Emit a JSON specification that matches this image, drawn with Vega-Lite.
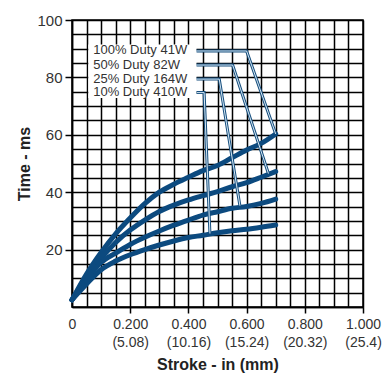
{
  "$schema": "https://vega.github.io/schema/vega-lite/v6.json",
  "autosize": "none",
  "width": 291,
  "height": 287,
  "padding": {"left": 72, "top": 20, "right": 20, "bottom": 70},
  "background": "white",
  "config": {
    "view": {"stroke": "black", "strokeWidth": 1.5},
    "font": "Liberation Sans"
  },
  "datasets": {
    "curves": [
      {"s": "41W", "x": 0, "t": 2.5}, {"s": "41W", "x": 0.05, "t": 11.5}, {"s": "41W", "x": 0.1, "t": 19}, {"s": "41W", "x": 0.15, "t": 25.5}, {"s": "41W", "x": 0.2, "t": 31}, {"s": "41W", "x": 0.25, "t": 36}, {"s": "41W", "x": 0.3, "t": 40}, {"s": "41W", "x": 0.35, "t": 42.8}, {"s": "41W", "x": 0.4, "t": 45.2}, {"s": "41W", "x": 0.45, "t": 47.5}, {"s": "41W", "x": 0.5, "t": 49.3}, {"s": "41W", "x": 0.55, "t": 52}, {"s": "41W", "x": 0.6, "t": 54.7}, {"s": "41W", "x": 0.65, "t": 57}, {"s": "41W", "x": 0.7, "t": 60.3},
      {"s": "82W", "x": 0, "t": 2.5}, {"s": "82W", "x": 0.05, "t": 10.5}, {"s": "82W", "x": 0.1, "t": 17}, {"s": "82W", "x": 0.15, "t": 22.5}, {"s": "82W", "x": 0.2, "t": 26.8}, {"s": "82W", "x": 0.25, "t": 30.3}, {"s": "82W", "x": 0.3, "t": 33.3}, {"s": "82W", "x": 0.35, "t": 35.5}, {"s": "82W", "x": 0.4, "t": 37.3}, {"s": "82W", "x": 0.45, "t": 38.8}, {"s": "82W", "x": 0.5, "t": 40.2}, {"s": "82W", "x": 0.55, "t": 41.9}, {"s": "82W", "x": 0.6, "t": 43.3}, {"s": "82W", "x": 0.65, "t": 45.2}, {"s": "82W", "x": 0.7, "t": 47.2},
      {"s": "164W", "x": 0, "t": 2.5}, {"s": "164W", "x": 0.05, "t": 9.5}, {"s": "164W", "x": 0.1, "t": 15.5}, {"s": "164W", "x": 0.15, "t": 18.8}, {"s": "164W", "x": 0.2, "t": 21.8}, {"s": "164W", "x": 0.25, "t": 24.3}, {"s": "164W", "x": 0.3, "t": 26.5}, {"s": "164W", "x": 0.35, "t": 28.5}, {"s": "164W", "x": 0.4, "t": 30.3}, {"s": "164W", "x": 0.45, "t": 32}, {"s": "164W", "x": 0.5, "t": 33.2}, {"s": "164W", "x": 0.55, "t": 34.4}, {"s": "164W", "x": 0.6, "t": 35}, {"s": "164W", "x": 0.65, "t": 36.1}, {"s": "164W", "x": 0.7, "t": 37.6},
      {"s": "410W", "x": 0, "t": 2.5}, {"s": "410W", "x": 0.05, "t": 8}, {"s": "410W", "x": 0.1, "t": 13}, {"s": "410W", "x": 0.15, "t": 16}, {"s": "410W", "x": 0.2, "t": 18.2}, {"s": "410W", "x": 0.25, "t": 20}, {"s": "410W", "x": 0.3, "t": 21.6}, {"s": "410W", "x": 0.35, "t": 23}, {"s": "410W", "x": 0.4, "t": 24.2}, {"s": "410W", "x": 0.45, "t": 25}, {"s": "410W", "x": 0.5, "t": 25.9}, {"s": "410W", "x": 0.55, "t": 26.6}, {"s": "410W", "x": 0.6, "t": 27.1}, {"s": "410W", "x": 0.65, "t": 27.8}, {"s": "410W", "x": 0.7, "t": 28.6}
    ],
    "leaders": [
      {"s": "41W", "o": 1, "x": 0.428, "t": 89.2}, {"s": "41W", "o": 2, "x": 0.6, "t": 89.2}, {"s": "41W", "o": 3, "x": 0.7, "t": 60.3},
      {"s": "82W", "o": 1, "x": 0.428, "t": 84.3}, {"s": "82W", "o": 2, "x": 0.552, "t": 84.3}, {"s": "82W", "o": 3, "x": 0.675, "t": 46.5},
      {"s": "164W", "o": 1, "x": 0.428, "t": 79.4}, {"s": "164W", "o": 2, "x": 0.506, "t": 79.4}, {"s": "164W", "o": 3, "x": 0.577, "t": 35.3},
      {"s": "410W", "o": 1, "x": 0.428, "t": 74.7}, {"s": "410W", "o": 2, "x": 0.454, "t": 74.7}, {"s": "410W", "o": 3, "x": 0.474, "t": 25.6}
    ],
    "labels": [
      {"label": "100% Duty 41W", "x": 0.073, "t": 89.4},
      {"label": "50% Duty 82W", "x": 0.073, "t": 84.4},
      {"label": "25% Duty 164W", "x": 0.073, "t": 79.6},
      {"label": "10% Duty 410W", "x": 0.073, "t": 74.8}
    ],
    "box": [{"x": 0.056, "x2": 0.428, "t": 72.8, "t2": 91.5}]
  },
  "encoding": {
    "x": {
      "field": "x", "type": "quantitative",
      "scale": {"domain": [0, 1], "nice": false, "zero": false},
      "axis": {
        "values": [0, 0.05, 0.1, 0.15, 0.2, 0.25, 0.3, 0.35, 0.4, 0.45, 0.5, 0.55, 0.6, 0.65, 0.7, 0.75, 0.8, 0.85, 0.9, 0.95, 1.0],
        "grid": true, "gridColor": "black", "gridWidth": 1.5, "gridOpacity": 1,
        "domain": true, "domainColor": "black", "domainWidth": 1.5,
        "tickColor": "black", "tickWidth": 1.5, "tickSize": 6,
        "tickOpacity": {"condition": {"test": "datum.value > 0.01 && abs(datum.value*5 - round(datum.value*5)) < 1e-6", "value": 1}, "value": 0},
        "labelExpr": "abs(datum.value*5 - round(datum.value*5)) < 1e-6 ? (datum.value == 0 ? '0' : [format(datum.value, '.3f'), '(' + format(datum.value*25.4, '.4~r') + ')']) : ''",
        "labelOverlap": false, "labelBound": false, "labelFlush": false,
        "labelFontSize": 14, "labelColor": "#333333", "labelPadding": 4, "labelLineHeight": 18,
        "title": "Stroke - in (mm)", "titleFontSize": 16, "titleFontWeight": "bold", "titleColor": "#222222", "titlePadding": 7
      }
    },
    "y": {
      "field": "t", "type": "quantitative",
      "scale": {"domain": [0, 100], "nice": false, "zero": false},
      "axis": {
        "values": [0, 5, 10, 15, 20, 25, 30, 35, 40, 45, 50, 55, 60, 65, 70, 75, 80, 85, 90, 95, 100],
        "grid": true, "gridColor": "black", "gridWidth": 1.5, "gridOpacity": 1,
        "domain": true, "domainColor": "black", "domainWidth": 1.5,
        "tickColor": "black", "tickWidth": 1.5, "tickSize": 7,
        "tickOpacity": {"condition": {"test": "datum.value > 0 && datum.value % 20 == 0", "value": 1}, "value": 0},
        "labelExpr": "datum.value > 0 && datum.value % 20 == 0 ? datum.label : ''",
        "labelOverlap": false, "labelBound": false, "labelFlush": false,
        "labelFontSize": 15, "labelColor": "#333333", "labelPadding": 3,
        "title": "Time - ms", "titleFontSize": 16, "titleFontWeight": "bold", "titleColor": "#222222", "titlePadding": 4
      }
    }
  },
  "layer": [
    {
      "data": {"name": "box"},
      "mark": {"type": "rect", "fill": "white", "stroke": null},
      "encoding": {
        "x2": {"field": "x2"},
        "y2": {"field": "t2"}
      }
    },
    {
      "data": {"name": "curves"},
      "mark": {"type": "line", "interpolate": "monotone", "strokeWidth": 5, "strokeCap": "round", "color": "#0c4a7f"},
      "encoding": {
        "detail": {"field": "s"}
      }
    },
    {
      "data": {"name": "leaders"},
      "mark": {"type": "line", "strokeWidth": 3, "color": "#174f7e"},
      "encoding": {
        "detail": {"field": "s"},
        "order": {"field": "o"}
      }
    },
    {
      "data": {"name": "leaders"},
      "mark": {"type": "line", "strokeWidth": 1, "color": "#d6e8f5"},
      "encoding": {
        "detail": {"field": "s"},
        "order": {"field": "o"}
      }
    },
    {
      "data": {"name": "labels"},
      "mark": {"type": "text", "align": "left", "baseline": "middle", "fontSize": 13, "color": "#333333", "font": "Liberation Sans"},
      "encoding": {
        "text": {"field": "label"}
      }
    }
  ]
}
